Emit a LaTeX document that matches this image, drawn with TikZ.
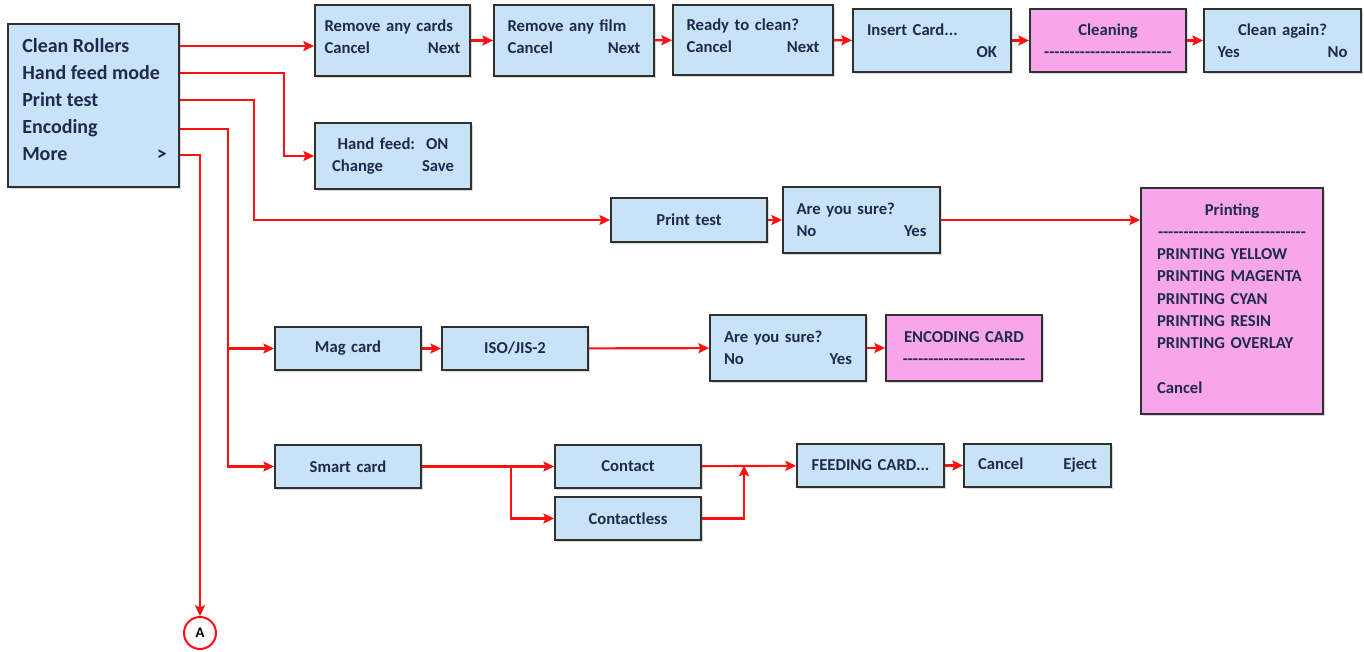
\documentclass[tikz,border=0pt]{standalone}
\usepackage{fontspec}
\setmainfont{Carlito}[Ligatures=TeXOff]
\usetikzlibrary{arrows.meta,fit,calc,shadows}
\definecolor{scrblue}{HTML}{C8E3F5}
\definecolor{scrpink}{HTML}{F8A6EC}
\definecolor{boxline}{HTML}{303030}
\definecolor{ink}{HTML}{1F2A4E}
\definecolor{flowred}{HTML}{FF1010}
\newcommand{\pxu}{0.75pt}
\newcommand{\boxfont}{\fontsize{12.5}{16.5}\selectfont\bfseries}
\newcommand{\menufont}{\fontsize{15}{20}\selectfont\bfseries}
\newcommand{\softkeys}[2]{\makebox[\linewidth]{#1\hfill #2}}
\newcommand{\ctrline}[1]{\makebox[\linewidth]{#1}}
\tikzset{
	scr/.style={draw=boxline, line width=1.4pt, inner sep=0pt,
		drop shadow={shadow xshift=1.2pt, shadow yshift=-1.2pt, fill=black, opacity=0.15}},
	screen/.style={scr, fill=scrblue},
	busy/.style={scr, fill=scrpink},
	scrtext/.style={text=ink, font=\boxfont, align=left, inner sep=0pt},
	menuitem/.style={text=ink, font=\menufont, anchor=base west, inner sep=0pt},
	flow/.style={->, draw=flowred, line width=1.6pt},
	connector/.style={draw=flowred, line width=1.5pt, circle, fill=white, minimum size=24pt, inner sep=0pt, font=\fontsize{11}{12}\selectfont\bfseries}
}
\newcommand{\scrbox}[7][]{
	\node [#3, fit={(#4) (#5)}] (#2) {};
	\node [scrtext, text width=#6*\pxu, #1] (#2-txt) at (#2.center) {#7};}

\begin{document}
\begin{tikzpicture}[x=\pxu, y=-\pxu, >={Stealth[length=8pt,width=7.5pt,inset=1.5pt]}]
	\useasboundingbox (0,0) rectangle (1364,652);
	% main menu
	\node [screen, fit={(8,24) (179,187)}] (menu) {};
	\node [menuitem] (clean) at (22,53) {Clean Rollers};
	\node [menuitem] (hand) at (22,80) {Hand feed mode};
	\node [menuitem] (ptline) at (22,107) {Print test};
	\node [menuitem] (enc) at (22,134) {Encoding};
	\node [menuitem] (more) at (22,161) {More};
	\node [menuitem, anchor=base east] (moresign) at (167,161) {>};
	% cleaning
	\scrbox[yshift=3pt]{rmcards}{screen}{315,5}{470,76}{136}{Remove any cards\\ \softkeys{Cancel}{Next}}
	\scrbox[yshift=3pt]{rmfilm}{screen}{494,5}{654,76}{133}{Remove any film\\ \softkeys{Cancel}{Next}}
	\scrbox[yshift=3pt]{ready}{screen}{673,5}{833,75}{133}{Ready to clean?\\ \softkeys{Cancel}{Next}}
	\scrbox{insert}{screen}{853,9}{1011,72}{130}{Insert Card...\\ \softkeys{}{OK}}
	\scrbox{cleaning}{busy}{1030,9}{1186,72}{130}{\ctrline{Cleaning}\\ \ctrline{-------------------------}}
	\scrbox{again}{screen}{1204,9}{1361,72}{130}{\ctrline{Clean again?}\\ \softkeys{Yes}{No}}
	% hand feed
	\scrbox{handfeed}{screen}{315,123}{471,189}{122}{\ctrline{Hand feed:~~ON}\\ \softkeys{Change}{Save}}
	% print test
	\scrbox{ptest}{screen}{611,198}{767,242}{130}{\ctrline{Print test}}
	\scrbox{sure1}{screen}{783,187}{940,253}{130}{Are you sure?\\ \softkeys{No}{Yes}}
	\scrbox[yshift=2pt]{printing}{busy}{1141,188}{1323,414}{150}{\fontsize{12.5}{16.7}\selectfont
		\ctrline{Printing}\\ \ctrline{-----------------------------}\\
		PRINTING YELLOW\\ PRINTING MAGENTA\\ PRINTING CYAN\\ PRINTING RESIN\\
		PRINTING OVERLAY\\[16.7pt] Cancel}
	% encoding
	\scrbox{mag}{screen}{275,327}{421,370}{120}{\ctrline{Mag card}}
	\scrbox{iso}{screen}{442,327}{588,370}{120}{\ctrline{ISO/JIS-2}}
	\scrbox{sure2}{screen}{710,315}{866,381}{128}{Are you sure?\\ \softkeys{No}{Yes}}
	\scrbox{enccard}{busy}{886,315}{1042,381}{128}{\ctrline{ENCODING CARD}\\ \ctrline{------------------------}}
	\scrbox{smart}{screen}{275,445}{421,488}{120}{\ctrline{Smart card}}
	\scrbox{contact}{screen}{555,445}{701,488}{120}{\ctrline{Contact}}
	\scrbox{contactless}{screen}{555,497}{701,540}{120}{\ctrline{Contactless}}
	\scrbox{feeding}{screen}{797,444}{944,487}{120}{\ctrline{FEEDING CARD...}}
	\scrbox{eject}{screen}{964,444}{1111,487}{119}{\softkeys{Cancel}{Eject}}
	\node [connector] (markA) at (200,633) {A};
	% connectors
	\draw [flow] (menu.east |- clean) -- (rmcards.west |- clean);
	\draw [flow] (rmcards) -- (rmfilm);
	\draw [flow] (rmfilm) -- (ready);
	\draw [flow] (ready) -- (insert);
	\draw [flow] (insert) -- (cleaning);
	\draw [flow] (cleaning) -- (again);
	\draw [flow] (menu.east |- hand) -- ++(104,0) |- (handfeed);
	\draw [flow] (menu.east |- ptline) -- ++(74,0) |- (ptest);
	\draw [flow] (ptest) -- (sure1);
	\draw [flow] (sure1.east) -- (sure1.east -| printing.west);
	\coordinate (encdrop) at ($(menu.east |- enc)+(48,0)$);
	\draw [flow] (menu.east |- enc) -- (encdrop) |- (smart);
	\draw [flow] (encdrop |- mag) -- (mag);
	\draw [flow] (mag) -- (iso);
	\draw [flow] (iso) -- (sure2);
	\draw [flow] (sure2) -- (enccard);
	\coordinate (split) at ($(smart.east)+(89,0)$);
	\draw [flow] (smart) -- (contact);
	\draw [flow] (split) |- (contactless);
	\coordinate (merge) at ($(feeding.west)+(-52,0)$);
	\draw [flow] (contact) -- (feeding);
	\draw [flow] (contactless) -| (merge);
	\draw [flow] (feeding) -- (eject);
	\draw [flow] (menu.east |- more) -| (markA);
\end{tikzpicture}
\end{document}
